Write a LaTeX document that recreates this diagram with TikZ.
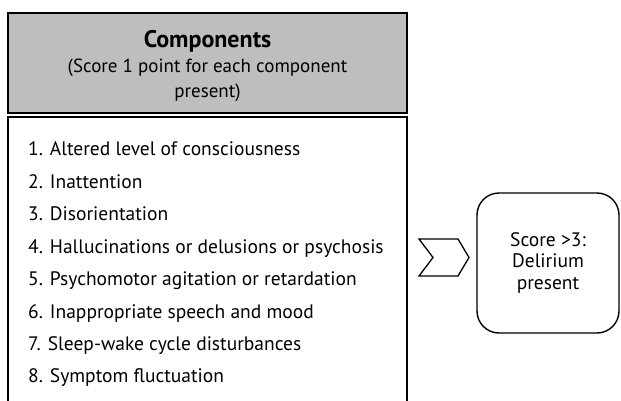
\documentclass[tikz,border=0pt]{standalone}
\usepackage{fontspec}
\setmainfont{PT Sans}
\usetikzlibrary{positioning}
\definecolor{headgray}{HTML}{BCBEC0}
\tikzset{
	x=1pt, y=-1pt, % pixel-like units, origin top left
	header/.style={draw, line width=1.6pt, fill=headgray, minimum width=399pt, minimum height=100pt, inner sep=0pt},
	headtext/.style={anchor=base, inner sep=0pt, font=\fontsize{19}{24}\selectfont},
	item/.style={anchor=base west, inner sep=0pt, font=\fontsize{19.5}{22}\selectfont},
	result/.style={draw, line width=1.4pt, rounded corners=22pt, minimum width=142pt, minimum height=140pt, align=center, font=\fontsize{19.5}{21.5}\selectfont},
}

\begin{document}
\begin{tikzpicture}
	\useasboundingbox (0,0) rectangle (621,401);
	\node[header] (head) at (207.5,63) {};
	\node[headtext, font=\fontsize{24}{26}\selectfont\bfseries] (title) at (207.5,48) {Components};
	\node[headtext] (sub1) at (207.5,73) {(Score 1 point for each component};
	\node[headtext] (sub2) at (207.5,97.5) {present)};
	% list box, open at the bottom
	\coordinate (lt) at (8,117);
	\coordinate (rt) at (407,117);
	\draw[line width=1.4pt] (8,401) -- (lt) -- (rt) -- (407,401);
	\foreach \txt [count=\i] in {Altered level of consciousness, Inattention, Disorientation,
		Hallucinations or delusions or psychosis, Psychomotor agitation or retardation,
		Inappropriate speech and mood, Sleep-wake cycle disturbances, Symptom fluctuation}
		\node[item] (it\i) at (28,{156+32.4*(\i-1)}) {\i. \txt};
	\node[result] (res) at (548,263) {Score >3:\\Delirium\\present};
	% chevron
	\coordinate (chev) at (444,257.5);
	\draw[line width=1.3pt, line join=miter] ([shift={(-25,-18.5)}]chev) -- ++(39,0) -- ++(11,18.5) -- ++(-11,18.5)
		-- ++(-39,0) -- ++(14,-18.5) -- cycle;
\end{tikzpicture}
\end{document}
